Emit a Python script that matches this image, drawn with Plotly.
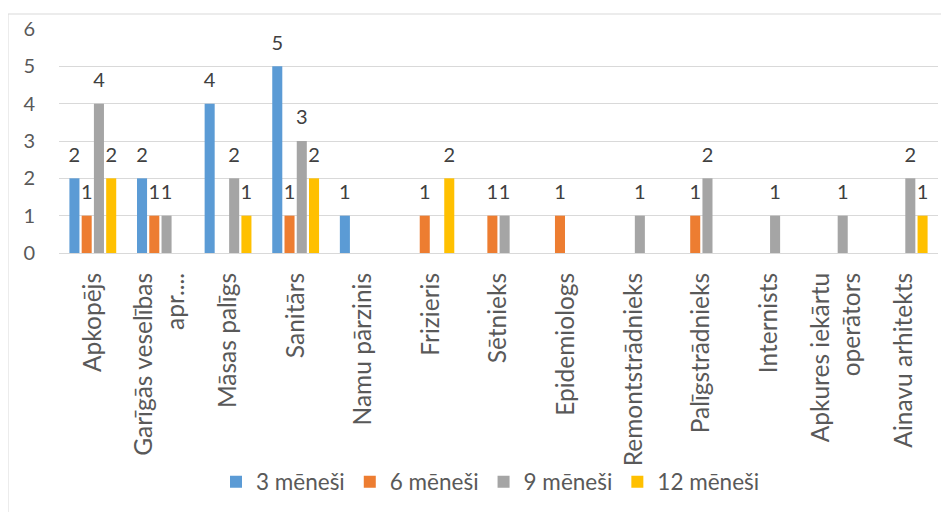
import plotly.graph_objects as go

categories = ["Apkopējs", "Garīgās veselības apr....", "Māsas palīgs", "Sanitārs",
              "Namu pārzinis", "Frizieris", "Sētnieks", "Epidemiologs",
              "Remontstrādnieks", "Palīgstrādnieks", "Internists",
              "Apkures iekārtu operātors", "Ainavu arhitekts"]
tick_labels = ["Apkopējs", "Garīgās veselības<br>apr....", "Māsas palīgs", "Sanitārs",
               "Namu pārzinis", "Frizieris", "Sētnieks", "Epidemiologs",
               "Remontstrādnieks", "Palīgstrādnieks", "Internists",
               "Apkures iekārtu<br>operātors", "Ainavu arhitekts"]
series_names = ["3 mēneši", "6 mēneši", "9 mēneši", "12 mēneši"]
m3 = [2, 2, 4, 5, 1, 0, 0, 0, 0, 0, 0, 0, 0]
m6 = [1, 1, 0, 1, 0, 1, 1, 1, 0, 1, 0, 0, 0]
m9 = [4, 1, 2, 3, 0, 0, 1, 0, 1, 2, 1, 1, 2]
m12 = [2, 0, 1, 2, 0, 2, 0, 0, 0, 0, 0, 0, 1]
y_ticks = [0, 1, 2, 3, 4, 5, 6]

colors = ["#5B9BD5", "#ED7D31", "#A5A5A5", "#FFC000"]
FONT = "Lato"
GAP = 0.275

fig = go.Figure()
all_series = [m3, m6, m9, m12]
for i, (name, vals) in enumerate(zip(series_names, all_series)):
    fig.add_trace(go.Bar(
        x=categories, y=vals, name=name, marker_color=colors[i],
        marker_line_width=0, offsetgroup=str(i), hoverinfo="x+y+name"))
for i, (name, vals) in enumerate(zip(series_names, all_series)):
    fig.add_trace(go.Scatter(
        x=categories, y=vals, mode="markers+text",
        text=[str(v) if v else "" for v in vals],
        textposition="top center",
        textfont=dict(family=FONT, size=20, color="#404040"),
        marker=dict(size=17, color="rgba(0,0,0,0)"),
        orientation="v", offsetgroup=str(i), showlegend=False,
        hoverinfo="skip", cliponaxis=False))

# page body has an 8px margin; work in screen coordinates
OFF = 8
SCREEN_W, SCREEN_H = 949, 512
W, H = SCREEN_W - OFF, SCREEN_H - OFF
plot_left, plot_right, plot_top, plot_bottom = 59, 938, 29, 253
L = plot_left - OFF
R = SCREEN_W - plot_right
T = plot_top - OFF
B = SCREEN_H - plot_bottom
pw, ph = plot_right - plot_left, plot_bottom - plot_top

def px_x(x):
    return (x - plot_left) / pw

def px_y(y):
    return (plot_bottom - y) / ph

fig.update_layout(
    width=W, height=H,
    margin=dict(l=L, r=R, t=T, b=B, autoexpand=False),
    paper_bgcolor="white", plot_bgcolor="white",
    barmode="group", bargap=GAP, bargroupgap=0.18,
    scattermode="group", scattergap=GAP,
    font=dict(family=FONT, color="#595959"),
    xaxis=dict(
        type="category", tickmode="array", tickvals=categories, ticktext=tick_labels,
        tickangle=-90, tickfont=dict(family=FONT, size=24.5, color="#595959"),
        showgrid=False, showline=False, ticks="", ticklabelstandoff=14,
        fixedrange=True),
    yaxis=dict(
        range=[0, 6], tickmode="array", tickvals=y_ticks,
        tickfont=dict(family=FONT, size=20, color="#595959"),
        gridcolor="#D9D9D9", gridwidth=1, zeroline=True, zerolinecolor="#D9D9D9",
        zerolinewidth=1, showline=False, ticks="", ticklabelstandoff=23,
        fixedrange=True),
    legend=dict(
        orientation="h", x=px_x(216), xanchor="left", y=px_y(482), yanchor="middle",
        font=dict(family=FONT, size=22.5, color="#595959"), traceorder="normal",
        bgcolor="rgba(0,0,0,0)"),
    shapes=[dict(type="rect", xref="paper", yref="paper",
                 x0=px_x(8), x1=px_x(975), y0=px_y(540), y1=px_y(14),
                 line=dict(color="#D9D9D9", width=1), fillcolor="rgba(0,0,0,0)",
                 layer="below")],
)

fig.write_html("out.html")
